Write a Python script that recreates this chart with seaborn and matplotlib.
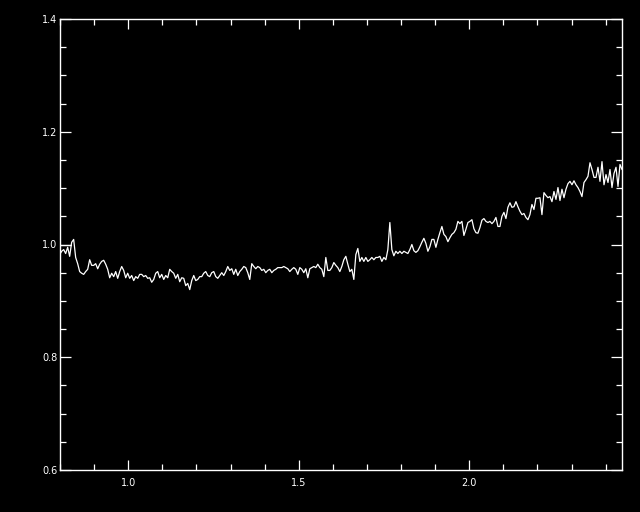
import numpy as np
import pandas as pd
import matplotlib
matplotlib.use("Agg")
import matplotlib.pyplot as plt
from matplotlib.ticker import MultipleLocator, FixedLocator
import seaborn as sns

wl_start, wl_end = 0.799, 2.448
flux = [
    0.982, 0.988, 0.991, 0.984, 0.995, 0.979, 1.004, 1.009, 0.977, 0.966,
    0.952, 0.949, 0.947, 0.952, 0.956, 0.973, 0.963, 0.963, 0.966, 0.957,
    0.965, 0.970, 0.972, 0.965, 0.956, 0.941, 0.949, 0.943, 0.952, 0.940,
    0.952, 0.961, 0.954, 0.941, 0.949, 0.940, 0.945, 0.936, 0.943, 0.940,
    0.947,
    0.947, 0.943, 0.945, 0.940, 0.941, 0.933, 0.938, 0.949, 0.952, 0.941,
    0.947, 0.938, 0.945, 0.941, 0.956, 0.952, 0.949, 0.940, 0.947, 0.934,
    0.941, 0.940, 0.927, 0.931, 0.920, 0.936, 0.945, 0.936, 0.938, 0.943,
    0.943, 0.949, 0.952, 0.945, 0.943, 0.950, 0.952, 0.943, 0.940, 0.945,
    0.950, 0.945, 0.952, 0.961, 0.954, 0.957, 0.947, 0.956, 0.945, 0.952,
    0.956, 0.961, 0.959, 0.950, 0.938, 0.966, 0.961, 0.957, 0.961, 0.959,
    0.954, 0.956, 0.950, 0.954, 0.956, 0.950, 0.954, 0.956, 0.959, 0.959,
    0.959, 0.961, 0.959, 0.957, 0.952, 0.956, 0.959, 0.956, 0.947, 0.959,
    0.956, 0.950, 0.957, 0.941, 0.957, 0.959, 0.961, 0.959, 0.965, 0.959,
    0.956, 0.943, 0.977, 0.954, 0.954, 0.959, 0.968, 0.963, 0.959, 0.952,
    0.961, 0.973, 0.979, 0.965, 0.952, 0.956, 0.938, 0.982, 0.993, 0.970,
    0.977, 0.970, 0.977, 0.970, 0.973, 0.977, 0.973, 0.977, 0.977, 0.979,
    0.970, 0.977, 0.973, 0.991, 1.039, 0.991, 0.980, 0.988, 0.984, 0.988,
    0.984, 0.988, 0.986, 0.984, 0.991, 1.000, 0.989, 0.986, 0.989, 0.996,
    1.004, 1.011, 1.002, 0.988, 0.996, 1.009, 1.009, 0.995, 1.009, 1.021,
    1.032, 1.018, 1.014, 1.005, 1.012, 1.018, 1.021, 1.027, 1.041, 1.037,
    1.041, 1.016, 1.027, 1.039, 1.041, 1.044, 1.028, 1.021, 1.020, 1.030,
    1.043, 1.046, 1.041, 1.039, 1.041, 1.037, 1.041, 1.048, 1.032, 1.032,
    1.050, 1.057, 1.046, 1.066, 1.074, 1.066, 1.067, 1.076, 1.067, 1.059,
    1.053, 1.055, 1.048, 1.044, 1.053, 1.071, 1.062, 1.082, 1.082, 1.083,
    1.053, 1.092, 1.087, 1.083, 1.085, 1.076, 1.094, 1.080, 1.101, 1.078,
    1.098, 1.083, 1.098, 1.108, 1.112, 1.106, 1.113, 1.106, 1.101, 1.094,
    1.085, 1.110, 1.115, 1.121, 1.145, 1.133, 1.119, 1.119, 1.137, 1.112,
    1.147, 1.106, 1.124, 1.110, 1.133, 1.101, 1.126, 1.137, 1.103, 1.142,
    1.133,
]
wavelength = np.linspace(wl_start, wl_end, len(flux))

# short flat piece at the blue edge
edge_wl = [0.800, 0.831]
edge_flux = [1.000, 1.000]

x_ticks = [1.0, 1.5, 2.0]
x_labels = ["1.0", "1.5", "2.0"]
y_ticks = [0.6, 0.8, 1.0, 1.2, 1.4]
y_labels = ["0.6", "0.8", "1.0", "1.2", "1.4"]

df = pd.DataFrame({"wavelength": wavelength, "flux": flux})
edge = pd.DataFrame({"wavelength": edge_wl, "flux": edge_flux})

sns.set_style("dark")
plt.rcParams["font.family"] = ["DejaVu Sans"]

fig = plt.figure(figsize=(6.4, 5.12), dpi=100, facecolor="black")
ax = fig.add_axes([60 / 640, 42 / 512, 562 / 640, 451 / 512])
ax.set_facecolor("black")

sns.lineplot(data=df, x="wavelength", y="flux", ax=ax, color="white",
             lw=0.9, sort=False, estimator=None)
sns.lineplot(data=edge, x="wavelength", y="flux", ax=ax, color="white",
             lw=0.9, sort=False, estimator=None)

ax.set_xlim(0.8, 2.448)
ax.set_ylim(0.6, 1.4)
ax.grid(False)
ax.set_xlabel("")
ax.set_ylabel("")

for s in ax.spines.values():
    s.set_visible(True)
    s.set_color("white")
    s.set_linewidth(1.0)

ax.xaxis.set_major_locator(FixedLocator(x_ticks))
ax.set_xticklabels(x_labels)
ax.xaxis.set_minor_locator(MultipleLocator(0.1))
ax.yaxis.set_major_locator(FixedLocator(y_ticks))
ax.set_yticklabels(y_labels)
ax.yaxis.set_minor_locator(MultipleLocator(0.05))

ax.tick_params(which="both", direction="in", top=True, right=True,
               bottom=True, left=True, color="white", labelcolor="white",
               labelsize=7)
ax.tick_params(axis="x", which="major", length=7, width=0.9, pad=6)
ax.tick_params(axis="x", which="minor", length=4, width=0.9)
ax.tick_params(axis="y", which="major", length=8, width=0.9, pad=2)
ax.tick_params(axis="y", which="minor", length=4.5, width=0.9)

fig.savefig("out.png", dpi=100, facecolor="black")
